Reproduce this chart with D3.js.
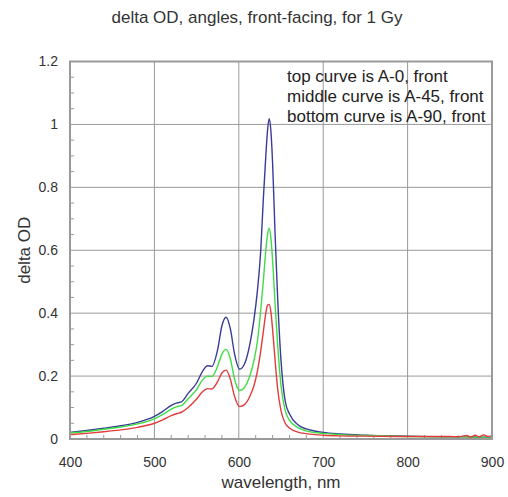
<!DOCTYPE html>
<html>
<head>
<meta charset="utf-8">
<script src="https://cdn.jsdelivr.net/npm/d3@7"></script>
<style>
  html, body { margin: 0; padding: 0; background: #fff; }
  svg { display: block; font-family: "Liberation Sans", Arial, sans-serif; }
</style>
</head>
<body>
<svg id="chart" width="508" height="497"></svg>
<script>
// Wavelength samples (nm) shared by the three spectra
const wavelengths = [400, 420, 440, 460, 480, 500, 510, 520, 527, 532, 540, 550, 557, 563, 568,
  575, 580, 585, 590, 595, 601, 607, 613, 618, 622, 626, 629, 632, 634, 636, 638, 640, 643, 646,
  650, 655, 660, 670, 680, 700, 720, 750, 800, 850, 860, 870, 875, 880, 885, 890, 895, 900];

// delta OD, A-0 front (top curve)
const odA0 = [0.021, 0.027, 0.034, 0.042, 0.053, 0.072, 0.088, 0.107, 0.115, 0.118, 0.145, 0.178,
  0.215, 0.233, 0.231, 0.285, 0.36, 0.387, 0.35, 0.27, 0.222, 0.24, 0.30, 0.38, 0.47, 0.60, 0.76,
  0.90, 0.98, 1.018, 0.98, 0.88, 0.65, 0.45, 0.25, 0.12, 0.08, 0.045, 0.032, 0.021, 0.016, 0.012,
  0.009, 0.007, 0.007, 0.007, 0.006, 0.006, 0.006, 0.006, 0.006, 0.006];

// delta OD, A-45 front (middle curve)
const odA45 = [0.019, 0.024, 0.031, 0.038, 0.048, 0.064, 0.078, 0.095, 0.103, 0.106, 0.128, 0.157,
  0.188, 0.200, 0.199, 0.232, 0.27, 0.285, 0.255, 0.19, 0.154, 0.165, 0.20, 0.25, 0.31, 0.41, 0.50,
  0.60, 0.65, 0.67, 0.64, 0.57, 0.43, 0.30, 0.17, 0.09, 0.06, 0.036, 0.026, 0.018, 0.014, 0.011,
  0.008, 0.007, 0.007, 0.007, 0.006, 0.006, 0.006, 0.006, 0.006, 0.006];

// delta OD, A-90 front (bottom curve)
const odA90 = [0.014, 0.018, 0.023, 0.029, 0.037, 0.050, 0.061, 0.074, 0.081, 0.085, 0.100, 0.127,
  0.150, 0.160, 0.159, 0.183, 0.21, 0.219, 0.19, 0.135, 0.103, 0.11, 0.135, 0.17, 0.215, 0.28, 0.34,
  0.40, 0.425, 0.428, 0.405, 0.35, 0.25, 0.16, 0.09, 0.05, 0.035, 0.022, 0.017, 0.012, 0.010, 0.009,
  0.008, 0.008, 0.007, 0.011, 0.006, 0.012, 0.007, 0.013, 0.008, 0.011];

const xTicks = [400, 500, 600, 700, 800, 900];
const yTicks = [0, 0.2, 0.4, 0.6, 0.8, 1, 1.2];
const legendLines = ["top curve is A-0, front", "middle curve is A-45, front", "bottom curve is A-90, front"];

// Drawn in this order, so the A-90 trace sits on top
const seriesList = [
  { name: "A-0",  values: odA0,  color: "#3b3b97" },
  { name: "A-45", values: odA45, color: "#3fdc46" },
  { name: "A-90", values: odA90, color: "#e23c3c" }
];

const svg = d3.select("#chart");
const plot = { left: 70, right: 492, top: 61.5, bottom: 439 };

const x = d3.scaleLinear().domain([400, 900]).range([plot.left, plot.right]);
const y = d3.scaleLinear().domain([0, 1.2]).range([plot.bottom, plot.top]);

const textColor = "#333";
const gridColor = "#999";

// Grid lines
svg.append("g")
  .selectAll("line")
  .data(xTicks.slice(1, -1))
  .join("line")
  .attr("x1", d => x(d)).attr("x2", d => x(d))
  .attr("y1", plot.top).attr("y2", plot.bottom)
  .attr("stroke", gridColor).attr("stroke-width", 1);

svg.append("g")
  .selectAll("line")
  .data(yTicks.slice(1, -1))
  .join("line")
  .attr("x1", plot.left).attr("x2", plot.right)
  .attr("y1", d => y(d)).attr("y2", d => y(d))
  .attr("stroke", gridColor).attr("stroke-width", 1);

// Minor inward ticks
const xMinor = d3.range(420, 900, 20).filter(v => v % 100 !== 0);
svg.append("g")
  .selectAll("line")
  .data(xMinor)
  .join("line")
  .attr("x1", d => x(d)).attr("x2", d => x(d))
  .attr("y1", plot.bottom).attr("y2", plot.bottom - 4)
  .attr("stroke", gridColor).attr("stroke-width", 1);

const yMinor = d3.range(0.05, 1.2, 0.05).filter(v => Math.abs(v * 5 - Math.round(v * 5)) > 1e-6);
svg.append("g")
  .selectAll("line")
  .data(yMinor)
  .join("line")
  .attr("x1", plot.left).attr("x2", plot.left + 4)
  .attr("y1", d => y(d)).attr("y2", d => y(d))
  .attr("stroke", gridColor).attr("stroke-width", 1);

// Spectra
const line = d3.line()
  .x(d => x(d[0]))
  .y(d => y(d[1]))
  .curve(d3.curveMonotoneX);

svg.append("g")
  .selectAll("path")
  .data(seriesList)
  .join("path")
  .attr("d", s => line(wavelengths.map((w, i) => [w, s.values[i]])))
  .attr("fill", "none")
  .attr("stroke", s => s.color)
  .attr("stroke-width", 1.4)
  .attr("stroke-linejoin", "round");

// Frame
svg.append("rect")
  .attr("x", plot.left).attr("y", plot.top)
  .attr("width", plot.right - plot.left).attr("height", plot.bottom - plot.top)
  .attr("fill", "none").attr("stroke", "#9a9a9a").attr("stroke-width", 2);

// Axis tick labels
const xAxis = d3.axisBottom(x).tickValues(xTicks).tickSize(0).tickPadding(0).tickFormat(d3.format("d"));
const gx = svg.append("g").attr("transform", `translate(0,${plot.bottom})`).call(xAxis);
gx.select(".domain").remove();
gx.selectAll("text")
  .attr("y", 28).attr("dy", null)
  .attr("font-size", 14).attr("fill", textColor)
  .attr("font-family", "Liberation Sans, Arial, sans-serif");

const yAxis = d3.axisLeft(y).tickValues(yTicks).tickSize(0).tickPadding(12).tickFormat(d => d3.format("~g")(d));
const gy = svg.append("g").attr("transform", `translate(${plot.left},0)`).call(yAxis);
gy.select(".domain").remove();
gy.selectAll("text")
  .attr("font-size", 14).attr("fill", textColor)
  .attr("font-family", "Liberation Sans, Arial, sans-serif");

// Title and axis titles
svg.append("text")
  .attr("x", 257).attr("y", 22.5)
  .attr("text-anchor", "middle")
  .attr("font-size", 17).attr("fill", textColor)
  .text("delta OD, angles, front-facing, for 1 Gy");

svg.append("text")
  .attr("x", (plot.left + plot.right) / 2).attr("y", 488)
  .attr("text-anchor", "middle")
  .attr("font-size", 17).attr("fill", textColor)
  .text("wavelength, nm");

svg.append("text")
  .attr("transform", `translate(30,${(plot.top + plot.bottom) / 2}) rotate(-90)`)
  .attr("text-anchor", "middle")
  .attr("font-size", 17).attr("fill", textColor)
  .text("delta OD");

// Curve key
svg.append("g")
  .selectAll("text")
  .data(legendLines)
  .join("text")
  .attr("x", 287)
  .attr("y", (d, i) => 81.5 + i * 20)
  .attr("font-size", 17).attr("fill", "#222")
  .text(d => d);
</script>
</body>
</html>
